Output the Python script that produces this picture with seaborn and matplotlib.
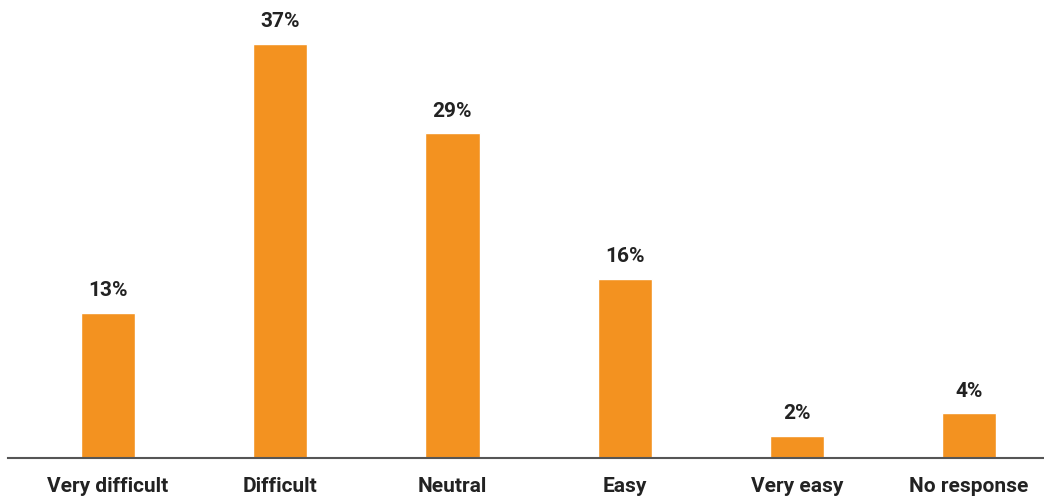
import matplotlib
matplotlib.use("Agg")
import matplotlib.pyplot as plt
import seaborn as sns
import pandas as pd

categories = ["Very difficult", "Difficult", "Neutral", "Easy", "Very easy", "No response"]
values = [13, 37, 29, 16, 2, 4]
labels = ["13%", "37%", "29%", "16%", "2%", "4%"]

sns.set_style("white")
plt.rcParams['font.family'] = ['Roboto', 'DejaVu Sans']

df = pd.DataFrame({"cat": categories, "val": values})

fig = plt.figure(figsize=(10.44, 5.04), dpi=100)
ax = fig.add_axes([8/1044, 46/504, 1036/1044, 458/504])
sns.barplot(data=df, x="cat", y="val", color="#F39220", saturation=1, width=0.314, ax=ax)

ax.set_xlim(-0.581, 5.435)
ax.set_ylim(0, 40.93)
for s in ["top", "right", "left"]:
    ax.spines[s].set_visible(False)
ax.spines["bottom"].set_color("#555555")
ax.spines["bottom"].set_linewidth(1.5)
ax.set_yticks([])
ax.set_xlabel("")
ax.set_ylabel("")
ax.tick_params(axis="x", length=0, pad=14)
for t in ax.get_xticklabels():
    t.set_fontweight("bold")
    t.set_fontsize(15)
    t.set_color("#222222")

ax.bar_label(ax.containers[0], labels=labels, padding=9, fontsize=15,
             fontweight="bold", color="#222222")

fig.savefig("out.png", dpi=100)
